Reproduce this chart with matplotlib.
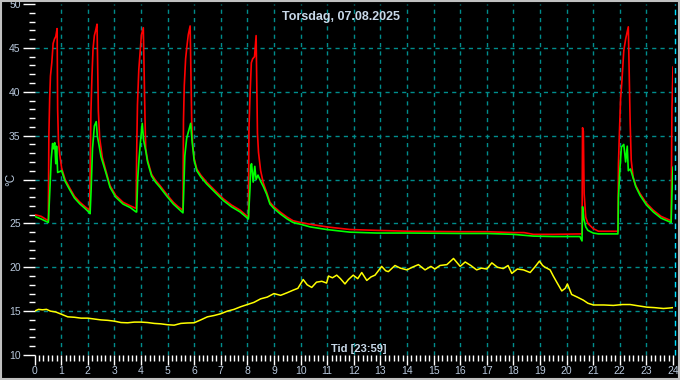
import numpy as np
import matplotlib
matplotlib.use('Agg')
import matplotlib.pyplot as plt
from matplotlib.patches import Rectangle

# red sensor (hours, deg C)
red_t = [0.0, 0.25, 0.52, 0.54, 0.57, 0.60, 0.65, 0.70, 0.75, 0.80, 0.85, 0.87, 0.90, 0.95, 1.02, 1.15, 1.33, 1.5, 1.71, 1.9, 2.07,
         2.09, 2.12, 2.16, 2.2, 2.25, 2.3, 2.35, 2.40, 2.45, 2.55, 2.7, 2.84, 3.05, 3.33, 3.6, 3.82,
         3.84, 3.87, 3.92, 3.97, 4.02, 4.09, 4.15, 4.18, 4.25, 4.4, 4.55, 4.72, 5.0, 5.22, 5.4, 5.58,
         5.6, 5.63, 5.68, 5.73, 5.78, 5.85, 5.91, 5.94, 6.0, 6.1, 6.25, 6.47, 6.8, 7.1, 7.4, 7.73, 8.04,
         8.06, 8.1, 8.15, 8.2, 8.27, 8.33, 8.38, 8.42, 8.5, 8.6, 8.73, 8.85, 9.0, 9.23, 9.5, 9.72, 10.0, 10.36,
         10.98, 11.86, 12.87, 14.1, 16.0, 17.0, 18.0, 18.4, 18.75, 19.5, 20.58,
         20.6, 20.63, 20.66, 20.72, 20.8, 21.0, 21.2, 21.93,
         21.95, 21.98, 22.03, 22.08, 22.15, 22.22, 22.32, 22.39, 22.43, 22.5, 22.6, 22.76, 23.0, 23.26, 23.55, 23.93, 23.96, 24.0]
red_v = [26.0, 25.8, 25.3, 35.0, 39.2, 41.8, 43.3, 45.5, 46.0, 46.3, 47.2, 38.0, 34.4, 32.8, 31.3, 30.0, 29.0, 28.1, 27.4, 26.9, 26.5,
         30.1, 37.6, 41.8, 44.9, 46.4, 47.0, 47.7, 37.8, 34.7, 32.5, 30.8, 29.3, 28.2, 27.4, 27.0, 26.7,
         33.0, 38.5, 42.5, 44.5, 46.5, 47.3, 37.5, 33.5, 32.2, 30.6, 29.9, 29.3, 28.2, 27.4, 26.9, 26.5,
         36.7, 40.7, 43.75, 45.2, 46.5, 47.5, 36.5, 34.2, 32.4, 31.2, 30.5, 29.7, 28.7, 27.8, 27.1, 26.5, 25.7,
         35.6, 39.5, 43.3, 43.75, 44.0, 46.4, 35.3, 33.1, 31.0, 29.6, 28.5, 27.4, 26.9, 26.3, 25.7, 25.3, 25.1, 24.9,
         24.6, 24.3, 24.2, 24.1, 24.05, 24.05, 23.95, 23.95, 23.75, 23.75, 23.8,
         35.9, 35.5, 28.4, 25.7, 25.0, 24.4, 24.1, 24.1,
         31.8, 34.8, 39.2, 41.25, 44.7, 46.0, 47.4, 36.4, 32.2, 30.3, 29.3, 28.4, 27.3, 26.5, 25.8, 25.3, 38.0, 42.8]

# green sensor
green_t = [0.0, 0.25, 0.52, 0.54, 0.58, 0.63, 0.68, 0.72, 0.76, 0.80, 0.83, 0.87, 1.02, 1.15, 1.33, 1.5, 1.71, 1.9, 2.07,
           2.09, 2.13, 2.18, 2.25, 2.32, 2.36, 2.42, 2.5, 2.7, 2.84, 3.05, 3.33, 3.6, 3.82,
           3.84, 3.88, 3.93, 3.98, 4.05, 4.1, 4.18, 4.25, 4.4, 4.55, 4.72, 5.0, 5.22, 5.4, 5.58,
           5.6, 5.65, 5.72, 5.87, 5.92, 6.0, 6.1, 6.25, 6.47, 6.8, 7.1, 7.4, 7.73, 8.04,
           8.06, 8.1, 8.13, 8.16, 8.22, 8.28, 8.33, 8.4, 8.5, 8.6, 8.73, 8.85, 9.0, 9.23, 9.5, 9.72, 10.0, 10.36,
           10.98, 11.86, 12.87, 14.1, 16.0, 17.0, 18.0, 18.75, 19.5, 20.5, 20.58,
           20.6, 20.65, 20.72, 20.8, 21.0, 21.2, 21.93,
           21.95, 22.0, 22.06, 22.15, 22.22, 22.28, 22.32, 22.4, 22.5, 22.6, 22.76, 23.0, 23.26, 23.55, 23.93, 23.96, 24.0]
green_v = [25.8, 25.5, 25.1, 26.3, 29.0, 32.4, 34.1, 33.5, 34.2, 31.8, 33.8, 30.8, 31.0, 29.8, 28.8, 27.9, 27.2, 26.7, 26.2,
           26.1, 29.0, 33.5, 36.1, 36.6, 35.0, 34.0, 32.6, 30.6, 29.1, 28.0, 27.2, 26.8, 26.3,
           26.3, 30.1, 32.4, 34.2, 36.4, 34.5, 33.3, 32.0, 30.4, 29.7, 29.1, 28.0, 27.2, 26.7, 26.2,
           27.8, 32.7, 34.7, 36.4, 34.5, 32.2, 31.0, 30.3, 29.5, 28.5, 27.6, 26.9, 26.3, 25.5,
           26.7, 29.0, 31.6, 31.8, 29.7, 31.5, 30.0, 30.5, 29.8, 29.2, 28.3, 27.2, 26.7, 26.1, 25.5, 25.1, 24.9, 24.6,
           24.3, 24.0, 23.9, 23.9, 23.85, 23.85, 23.75, 23.55, 23.5, 23.5, 23.0,
           26.9, 25.5, 24.6, 24.2, 23.9, 23.8, 23.8,
           28.0, 31.0, 33.7, 34.0, 32.0, 33.8, 31.0, 31.2, 30.2, 29.2, 28.2, 27.1, 26.3, 25.6, 25.1, 28.5, 31.4]

# yellow sensor (outdoor)
yellow_t = [0.0, 0.15, 0.3, 0.45, 0.6, 0.8, 1.0, 1.25, 1.5, 1.75, 2.0, 2.25, 2.5, 2.75, 3.0, 3.25, 3.5, 3.75, 4.0, 4.25,
            4.5, 4.75, 5.0, 5.25, 5.5, 5.75, 6.0, 6.25, 6.5, 6.75, 7.0, 7.25, 7.5, 7.75, 8.0, 8.25, 8.5, 8.75, 9.0, 9.25,
            9.5, 9.73, 9.9, 10.1, 10.25, 10.42, 10.6, 10.8, 10.98, 11.05, 11.2, 11.36, 11.5, 11.67, 11.8, 11.98, 12.15, 12.3,
            12.49, 12.65, 12.8, 13.05, 13.2, 13.3, 13.55, 13.75, 14.0, 14.2, 14.43, 14.68, 14.9, 15.05, 15.24, 15.5, 15.75,
            16.0, 16.19, 16.4, 16.62, 16.8, 17.0, 17.19, 17.4, 17.62, 17.8, 17.94, 18.15, 18.38, 18.63, 18.8, 18.98, 19.1,
            19.19, 19.38, 19.5, 19.63, 19.82, 19.95, 20.03, 20.19, 20.4, 20.63, 20.8, 21.01, 21.4, 21.76, 22.1, 22.39, 22.7,
            23.02, 23.3, 23.64, 23.85, 24.0]
yellow_v = [15.0, 15.2, 15.15, 15.2, 15.0, 14.9, 14.66, 14.35, 14.3, 14.2, 14.2, 14.1, 14.0, 13.95, 13.86, 13.7, 13.67, 13.75, 13.75, 13.7,
            13.6, 13.55, 13.45, 13.4, 13.6, 13.65, 13.67, 14.0, 14.35, 14.5, 14.7, 15.0, 15.2, 15.5, 15.75, 16.0, 16.4, 16.6, 17.0, 16.8,
            17.1, 17.4, 17.6, 18.6, 18.0, 17.7, 18.3, 18.4, 18.2, 19.0, 18.8, 19.1, 18.7, 18.1, 18.6, 19.1, 18.7, 19.4,
            18.5, 18.9, 19.1, 20.1, 19.6, 19.5, 20.2, 19.9, 19.7, 20.0, 20.3, 19.7, 20.1, 19.8, 20.2, 20.3, 21.0,
            20.1, 20.6, 20.2, 19.7, 19.9, 19.8, 20.5, 20.0, 19.85, 20.2, 19.3, 19.8, 19.7, 19.4, 20.0, 20.7, 20.2,
            20.0, 19.7, 19.0, 18.3, 17.3, 17.6, 18.1, 16.9, 16.6, 16.25, 15.9, 15.7, 15.7, 15.65, 15.75, 15.75, 15.6,
            15.45, 15.4, 15.3, 15.35, 15.4]

title = 'Torsdag, 07.08.2025'
xlabel = 'Tid [23:59]'
ylabel = '°C'
y_ticks = [10, 15, 20, 25, 30, 35, 40, 45, 50]
y_ticklabels = ['10', '15', '20', '25', '', '35', '40', '45', '50']

txt = '#b8c8dc'
plt.rcParams['font.family'] = ['Liberation Sans', 'DejaVu Sans']

fig = plt.figure(figsize=(6.8, 3.8), dpi=100, facecolor='black')
ax = fig.add_axes([34.5 / 680, 1 - 355 / 380, 638.5 / 680, 351 / 380])
ax.set_facecolor('black')

ax.plot(red_t, red_v, color='#ff0000', lw=1.2, zorder=3)
ax.plot(green_t, green_v, color='#00ff00', lw=1.2, zorder=3)
ax.plot(yellow_t, yellow_v, color='#ffff00', lw=1.1, zorder=3)

ax.set_xlim(0, 24)
ax.set_ylim(10, 50)
ax.set_xticks(range(0, 25))
ax.set_xticks(np.arange(0, 24.01, 1 / 6), minor=True)
ax.set_yticks(y_ticks)
ax.set_yticklabels(y_ticklabels)
ax.set_yticks(range(10, 51), minor=True)
for s in ax.spines.values():
    s.set_visible(False)

ax.tick_params(axis='both', which='both', colors='white', labelcolor=txt, labelsize=7.5, width=1)
ax.tick_params(axis='y', which='major', length=9, pad=1)
ax.tick_params(axis='y', which='minor', length=4)
ax.tick_params(axis='x', which='major', length=7, pad=1)
ax.tick_params(axis='x', which='minor', length=4)

ax.grid(True, which='major', color='#008c8c', linestyle=(0, (3, 3)), linewidth=1)
for tk in [ax.xaxis.get_major_ticks()[0], ax.xaxis.get_major_ticks()[-1],
           ax.yaxis.get_major_ticks()[0], ax.yaxis.get_major_ticks()[-1]]:
    tk.gridline.set_visible(False)

ax.axvline(24.07, color='#00e0ff', linestyle=(0, (4, 3)), lw=1, clip_on=False)

ax.text(0.48, 0.963, title, transform=ax.transAxes, ha='center', va='center',
        color='#c8d8e8', fontsize=9, fontweight='bold')
ax.text(0.465, 0.017, xlabel, transform=ax.transAxes, ha='left', va='center',
        color='#c8d8e8', fontsize=8, fontweight='bold')
fig.text(11 / 680, 1 - 179 / 380, ylabel, rotation=90, ha='center', va='center',
         color=txt, fontsize=8.5)

fig.patches.append(Rectangle((0.001, 0.002), 0.997, 0.996, transform=fig.transFigure,
                             fill=False, edgecolor='#c0c0c0', lw=1.5))

fig.savefig('out.png', dpi=100, facecolor='black')
plt.close(fig)
